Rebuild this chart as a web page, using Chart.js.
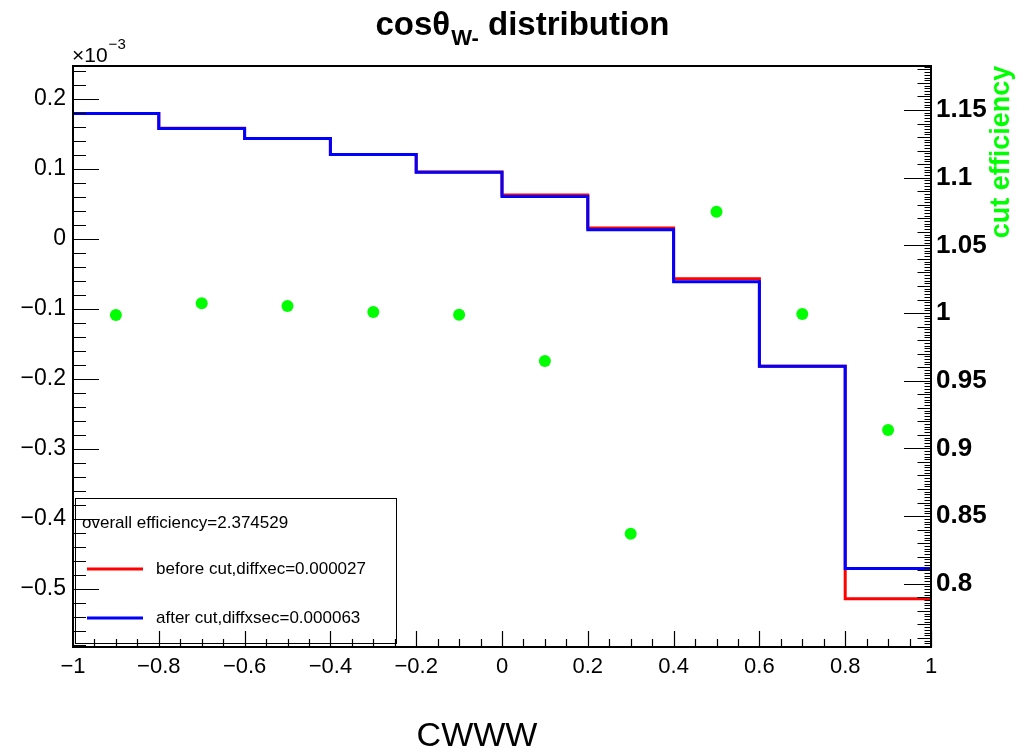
<!DOCTYPE html>
<html><head><meta charset="utf-8">
<script src="https://cdn.jsdelivr.net/npm/chart.js@4/dist/chart.umd.min.js"></script>
<style>html,body{margin:0;padding:0;background:#fff;}#wrap{width:1024px;height:753px;position:relative;}</style>
</head><body><div id="wrap"><canvas id="c" width="1024" height="753"></canvas></div>
<script>
// bin edges of cos(theta_W-)
const binEdges = [-1, -0.8, -0.6, -0.4, -0.2, 0, 0.2, 0.4, 0.6, 0.8, 1];
const binCenters = [-0.9, -0.7, -0.5, -0.3, -0.1, 0.1, 0.3, 0.5, 0.7, 0.9];
// differential cross sections, in units of 1e-3
const beforeCut = [0.179, 0.158, 0.1436, 0.1207, 0.0954, 0.0628, 0.0155, -0.0570, -0.182, -0.514];
const afterCut  = [0.179, 0.1576, 0.1433, 0.1204, 0.0951, 0.0606, 0.0130, -0.0613, -0.182, -0.471];
// cut efficiency per bin (right axis)
const cutEfficiency = [0.9985, 1.0072, 1.0052, 1.0007, 0.9988, 0.9645, 0.837, 1.0748, 0.9993, 0.9136];

const titleMain = "cos\u03B8";
const titleSub = "W-";
const titleRest = " distribution";
const xTitle = "CWWW";
const yRightTitle = "cut efficiency";
const legendHeader = "overall efficiency=2.374529";
const labelBefore = "before cut,diffxec=0.000027";
const labelAfter = "after cut,diffxsec=0.000063";

const FONT = "'Liberation Sans', Arial, Helvetica, sans-serif";
const minus = s => String(s).replace('-', '\u2212');

function stepData(vals) {
  return binEdges.map((e, i) => ({x: e, y: vals[Math.min(i, vals.length - 1)]}));
}

const decor = {
  id: 'decor',
  afterDraw(chart) {
    const ctx = chart.ctx, a = chart.chartArea;
    const sx = chart.scales.x, sy = chart.scales.y, s2 = chart.scales.y2;
    ctx.save();
    // legend box
    ctx.strokeStyle = '#000'; ctx.lineWidth = 1;
    ctx.strokeRect(75.5, 498.5, 321, 145);
    ctx.fillStyle = '#000';
    ctx.font = '17px ' + FONT;
    ctx.textBaseline = 'middle'; ctx.textAlign = 'left';
    ctx.fillText(legendHeader, 82, 523);
    ctx.fillText(labelBefore, 156, 569);
    ctx.fillText(labelAfter, 156, 618);
    ctx.lineWidth = 3;
    ctx.strokeStyle = '#ff0000';
    ctx.beginPath(); ctx.moveTo(87, 569); ctx.lineTo(143, 569); ctx.stroke();
    ctx.strokeStyle = '#0000ff';
    ctx.beginPath(); ctx.moveTo(87, 618); ctx.lineTo(143, 618); ctx.stroke();

    // ticks
    ctx.strokeStyle = '#000'; ctx.lineWidth = 1.2;
    ctx.beginPath();
    for (let k = Math.ceil(sy.min / 0.02); k <= Math.floor(sy.max / 0.02); k++) {
      const p = Math.round(sy.getPixelForValue(k * 0.02)) + 0.5;
      const len = (k % 5 === 0) ? 26 : 13;
      ctx.moveTo(a.left, p); ctx.lineTo(a.left + len, p);
    }
    for (let k = Math.ceil(s2.min / 0.002); k <= Math.floor(s2.max / 0.002); k++) {
      const p = Math.round(s2.getPixelForValue(k * 0.002)) + 0.5;
      const len = (k % 25 === 0) ? 27 : (k % 5 === 0 ? 13.5 : 6.5);
      ctx.moveTo(a.right, p); ctx.lineTo(a.right - len, p);
    }
    for (let k = -20; k <= 20; k++) {
      const p = Math.round(sx.getPixelForValue(k * 0.05)) + 0.5;
      const len = (k % 4 === 0) ? 16 : 8;
      ctx.moveTo(p, a.bottom); ctx.lineTo(p, a.bottom - len);
    }
    ctx.stroke();
    ctx.lineWidth = 2;
    ctx.strokeRect(a.left, a.top, a.right - a.left, a.bottom - a.top);

    // title
    ctx.fillStyle = '#000';
    ctx.textBaseline = 'alphabetic'; ctx.textAlign = 'left';
    const fMain = 'bold 33px ' + FONT, fSub = 'bold 22px ' + FONT;
    ctx.font = fMain; const w1 = ctx.measureText(titleMain).width, w3 = ctx.measureText(titleRest).width;
    ctx.font = fSub; const w2 = ctx.measureText(titleSub).width;
    let tx = 522 - (w1 + w2 + w3) / 2;
    ctx.font = fMain; ctx.fillText(titleMain, tx, 35);
    ctx.font = fSub; ctx.fillText(titleSub, tx + w1 + 1, 45);
    ctx.font = fMain; ctx.fillText(titleRest, tx + w1 + w2 + 1, 35);

    // exponent label
    ctx.font = '21px ' + FONT;
    ctx.fillText('\u00D710', 72, 62);
    const we = ctx.measureText('\u00D710').width;
    ctx.font = '15px ' + FONT;
    ctx.fillText('\u22123', 72 + we + 1, 49);

    // x title
    ctx.font = '34px ' + FONT;
    ctx.textAlign = 'center'; ctx.textBaseline = 'middle';
    ctx.fillText(xTitle, 477, 737);

    // right y title
    ctx.save();
    ctx.translate(1002, 152);
    ctx.rotate(-Math.PI / 2);
    ctx.fillStyle = '#00ff00';
    ctx.font = 'bold 27px ' + FONT;
    ctx.fillText(yRightTitle, 0, 0);
    ctx.restore();
    ctx.restore();
  }
};

new Chart(document.getElementById('c'), {
  type: 'line',
  data: {
    datasets: [
      {label: 'cut efficiency', type: 'scatter', data: binCenters.map((x, i) => ({x, y: cutEfficiency[i]})),
       yAxisID: 'y2', pointRadius: 6, pointHoverRadius: 6, pointBackgroundColor: '#00ff00', pointBorderWidth: 0,
       showLine: false, order: 0},
      {label: labelAfter, data: stepData(afterCut), borderColor: '#0000ff', borderWidth: 3, pointRadius: 0,
       stepped: true, fill: false, yAxisID: 'y', order: 1},
      {label: labelBefore, data: stepData(beforeCut), borderColor: '#ff0000', borderWidth: 3, pointRadius: 0,
       stepped: true, fill: false, yAxisID: 'y', order: 2}
    ]
  },
  options: {
    responsive: false,
    animation: false,
    layout: {padding: {top: 66, left: 0, right: 0, bottom: 0}},
    plugins: {legend: {display: false}, tooltip: {enabled: false}, title: {display: false}},
    scales: {
      x: {type: 'linear', min: -1, max: 1, grid: {display: false, drawTicks: false}, border: {display: false},
          ticks: {stepSize: 0.2, padding: 7, color: '#000', font: {family: FONT, size: 22}, maxRotation: 0,
                  callback: v => minus(Math.round(v * 10) / 10)},
          afterFit: s => { s.height = 106; }},
      y: {type: 'linear', position: 'left', min: -0.583, max: 0.247, grid: {display: false, drawTicks: false},
          border: {display: false},
          ticks: {stepSize: 0.1, includeBounds: false, padding: 7, color: '#000', font: {family: FONT, size: 23},
                  callback: v => minus(Math.round(v * 10) / 10)},
          afterFit: s => { s.width = 73; }},
      y2: {type: 'linear', position: 'right', min: 0.7533, max: 1.1825, grid: {display: false, drawTicks: false},
           border: {display: false},
           ticks: {stepSize: 0.05, includeBounds: false, padding: 5, color: '#000',
                   font: {family: FONT, size: 26, weight: 'bold'},
                   callback: v => String(Math.round(v * 100) / 100)},
           afterFit: s => { s.width = 93; }}
    }
  },
  plugins: [decor]
});
</script></body></html>
